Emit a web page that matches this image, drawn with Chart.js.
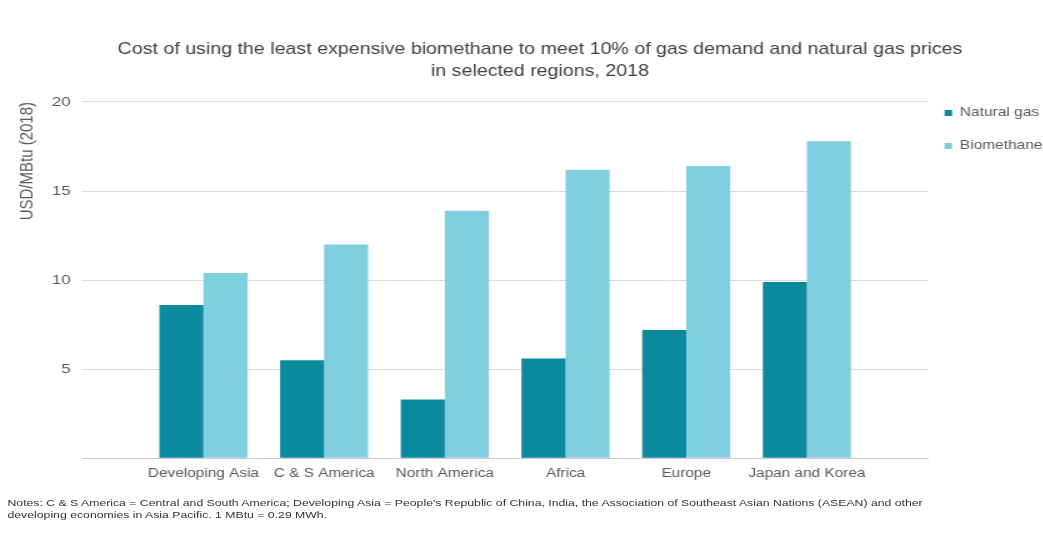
<!DOCTYPE html>
<html>
<head>
<meta charset="utf-8">
<script src="https://cdn.jsdelivr.net/npm/chart.js@4"></script>
<style>
  body { margin: 0; background: #fff; }
  #wrap { position: relative; width: 1043px; height: 550px; overflow: hidden; }
  /* the reference is stretched sideways, so the whole chart is drawn narrow and widened */
  #inner { position: absolute; left: 0; top: 0; width: 870px; height: 550px;
           transform: scaleX(1.25); transform-origin: 0 0; }
  #notes {
    position: absolute; left: 6px; top: 497px;
    font-family: "Liberation Sans", Arial, sans-serif;
    font-size: 9.8px; line-height: 12px; color: #333;
    white-space: nowrap;
  }
</style>
</head>
<body>
<div id="wrap">
  <div id="inner">
    <canvas id="chartCanvas" width="870" height="550"></canvas>
    <div id="notes">Notes: C &amp; S America = Central and South America; Developing Asia = People's Republic of China, India, the Association of Southeast Asian Nations (ASEAN) and other<br>developing economies in Asia Pacific. 1 MBtu = 0.29 MWh.</div>
  </div>
</div>
<script>
const regions = ["Developing Asia", "C & S America", "North America", "Africa", "Europe", "Japan and Korea"];
const naturalGas = [8.6, 5.5, 3.3, 5.6, 7.2, 9.9];
const biomethane = [10.4, 12.0, 13.9, 16.2, 16.4, 17.8];
const yTicks = [0, 5, 10, 15, 20];

const fontFamily = '"Liberation Sans", Arial, sans-serif';

// regions sit on a numeric axis so there is an empty slot on both sides, like the reference
function toPoints(values) {
  return values.map((v, i) => ({ x: i, y: v }));
}

// nudge the legend a bit closer to the plot
const legendShift = {
  id: "legendShift",
  beforeDraw(chart) {
    chart.legend.left -= 7;
    chart.legend.right -= 7;
  }
};

const ctx = document.getElementById("chartCanvas").getContext("2d");
const chart = new Chart(ctx, {
  type: "bar",
  data: {
    datasets: [
      { label: "Natural gas", data: toPoints(naturalGas), backgroundColor: "#0b8a9d" },
      { label: "Biomethane", data: toPoints(biomethane), backgroundColor: "#80cfe1" }
    ]
  },
  plugins: [legendShift],
  options: {
    responsive: false,
    animation: false,
    datasets: { bar: { categoryPercentage: 0.73, barPercentage: 1.0 } },
    layout: { padding: { left: 13, right: 19, top: 0, bottom: 61 } },
    plugins: {
      title: {
        display: true,
        text: ["Cost of using the least expensive biomethane to meet 10% of gas demand and natural gas prices",
               "in selected regions, 2018"],
        color: "#404040",
        font: { family: fontFamily, size: 15.7, weight: "normal", lineHeight: 1.4 },
        padding: { top: 39, bottom: 19 }
      },
      legend: {
        position: "right",
        align: "start",
        title: { display: true, text: " ", font: { size: 1 }, padding: { top: 85, bottom: 0 } },
        labels: {
          color: "#595959",
          font: { family: fontFamily, size: 12.4 },
          boxWidth: 6,
          boxHeight: 6,
          padding: 20.6
        }
      },
      tooltip: { enabled: false }
    },
    scales: {
      x: {
        type: "linear",
        min: -1,
        max: 6,
        offset: false,
        grid: { display: false, drawTicks: false, offset: false },
        border: { display: true, color: "#c9c9c9" },
        ticks: {
          stepSize: 1,
          autoSkip: false,
          maxRotation: 0,
          color: "#595959",
          font: { family: fontFamily, size: 12.3 },
          padding: 8,
          callback: v => regions[v] ?? ""
        }
      },
      y: {
        min: 0,
        max: 20,
        afterBuildTicks: axis => { axis.ticks = yTicks.map(v => ({ value: v })); },
        grid: { color: "#dcdcdc", drawTicks: false },
        border: { display: false },
        ticks: {
          color: "#595959",
          font: { family: fontFamily, size: 13.5 },
          padding: 9.6,
          callback: v => (v === 0 ? "" : v)
        },
        title: {
          display: true,
          text: "USD/MBtu (2018)",
          align: "end",
          color: "#595959",
          font: { family: fontFamily, size: 15 },
          padding: { top: 0, bottom: 1 }
        }
      }
    }
  }
});
</script>
</body>
</html>
